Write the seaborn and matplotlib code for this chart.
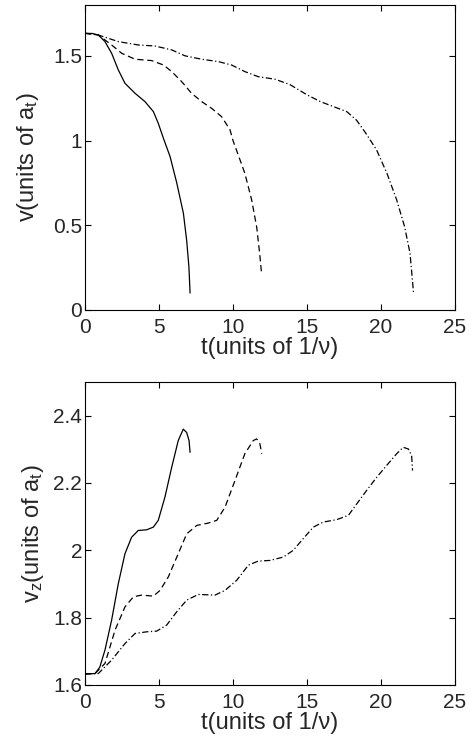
import numpy as np
import pandas as pd
import matplotlib
matplotlib.use("Agg")
import matplotlib.pyplot as plt
import seaborn as sns

# Transverse speed v(t) for three runs
t_v_solid = [0, 0.5, 0.9, 1.35, 1.8, 2.25, 2.7, 3.38, 4.05, 4.62, 4.95, 5.3, 5.75, 6.2, 6.65, 6.87, 7.02, 7.1]
v_solid = [1.633, 1.632, 1.623, 1.584, 1.515, 1.417, 1.338, 1.279, 1.23, 1.171, 1.102, 1.013, 0.905, 0.75, 0.57, 0.41, 0.256, 0.1]

t_v_dash = [0, 0.9, 1.8, 2.48, 3.38, 4.5, 5.3, 5.86, 6.53, 7.2, 7.88, 8.56, 9.23, 9.8, 10.0, 10.25, 10.8, 11.26, 11.6, 11.8, 11.93]
v_dash = [1.633, 1.623, 1.564, 1.515, 1.48, 1.472, 1.446, 1.407, 1.348, 1.279, 1.23, 1.19, 1.141, 1.063, 1.0, 0.94, 0.807, 0.65, 0.49, 0.335, 0.216]

t_v_dd = [0, 0.9, 2.25, 3.6, 4.73, 5.86, 6.76, 7.88, 9.0, 9.9, 10.8, 11.7, 12.84, 13.85, 15.0, 15.9, 16.8, 17.7, 18.35, 19.0, 19.7, 20.4, 21.06, 21.6, 21.96, 22.2]
v_dd = [1.633, 1.623, 1.584, 1.564, 1.558, 1.535, 1.5, 1.48, 1.466, 1.446, 1.407, 1.377, 1.362, 1.33, 1.27, 1.23, 1.2, 1.17, 1.12, 1.04, 0.945, 0.807, 0.65, 0.49, 0.335, 0.1]

# Longitudinal speed v_z(t) for the same runs
t_z_solid = [0, 0.68, 1.0, 1.35, 1.8, 2.25, 2.7, 3.15, 3.6, 4.17, 4.62, 4.95, 5.4, 5.86, 6.3, 6.64, 6.87, 7.03, 7.1]
z_solid = [1.633, 1.634, 1.653, 1.704, 1.793, 1.901, 1.99, 2.039, 2.059, 2.061, 2.069, 2.089, 2.158, 2.247, 2.326, 2.36, 2.35, 2.326, 2.291]

t_z_dash = [0, 0.68, 1.35, 2.03, 2.7, 3.27, 3.83, 4.62, 5.07, 5.63, 6.3, 6.87, 7.55, 8.33, 8.9, 9.46, 10.13, 10.8, 11.37, 11.6, 11.82, 11.94]
z_dash = [1.633, 1.634, 1.664, 1.763, 1.832, 1.862, 1.867, 1.864, 1.881, 1.921, 1.99, 2.049, 2.074, 2.081, 2.089, 2.128, 2.207, 2.287, 2.326, 2.331, 2.316, 2.287]

t_z_dd = [0, 0.9, 1.8, 2.7, 3.38, 4.17, 4.84, 5.52, 6.19, 6.87, 7.66, 8.78, 9.46, 10.25, 11.04, 11.7, 12.5, 13.4, 14.07, 14.75, 15.43, 16.1, 17.0, 17.8, 18.36, 19.03, 19.71, 20.38, 21.06, 21.5, 21.85, 22.07, 22.13]
z_dd = [1.633, 1.634, 1.674, 1.723, 1.753, 1.758, 1.76, 1.778, 1.817, 1.852, 1.869, 1.867, 1.881, 1.911, 1.956, 1.968, 1.97, 1.98, 2.0, 2.035, 2.069, 2.084, 2.091, 2.104, 2.138, 2.178, 2.217, 2.252, 2.287, 2.306, 2.301, 2.281, 2.237]

x_ticks = [0, 5, 10, 15, 20, 25]
v_ticks = [0, 0.5, 1, 1.5]
vz_ticks = [1.6, 1.8, 2.0, 2.2, 2.4]
v_tick_labels = ["0", "0.5", "1", "1.5"]
vz_tick_labels = ["1.6", "1.8", "2", "2.2", "2.4"]

sns.set_theme(style="ticks")
plt.rcParams["font.family"] = ["Liberation Sans", "DejaVu Sans"]
plt.rcParams["mathtext.default"] = "regular"
plt.rcParams["xtick.direction"] = "in"
plt.rcParams["ytick.direction"] = "in"

fig = plt.figure(figsize=(4.76, 7.41), dpi=100)
W, H = 476, 741
ax1 = fig.add_axes([85 / W, 1 - 310 / H, 370 / W, 305 / H])
ax2 = fig.add_axes([85 / W, 1 - 685 / H, 370 / W, 303 / H])

styles = ["-", (0, (5, 3)), (0, (5, 2, 1, 2))]
lw = 0.9

def draw(ax, series):
    for (tx, yy), ls in zip(series, styles):
        df = pd.DataFrame({"t": tx, "y": yy})
        sns.lineplot(data=df, x="t", y="y", ax=ax, color="black", linewidth=lw,
                     linestyle=ls, sort=False, estimator=None)

draw(ax1, [(t_v_solid, v_solid), (t_v_dash, v_dash), (t_v_dd, v_dd)])
draw(ax2, [(t_z_solid, z_solid), (t_z_dash, z_dash), (t_z_dd, z_dd)])

fs_tick = 15
fs_label = 17
for ax in (ax1, ax2):
    ax.set_xlim(0, 25)
    ax.set_xticks(x_ticks)
    ax.set_xticklabels([str(v) for v in x_ticks])
    ax.set_xlabel("t(units of 1/\u03bd)", fontsize=fs_label, labelpad=0)
    ax.tick_params(axis="both", which="both", direction="in", top=True, right=True,
                   length=4, width=0.8, labelsize=fs_tick, color="black")
    ax.tick_params(axis="x", pad=6)
    ax.tick_params(axis="y", pad=2)
    for s in ax.spines.values():
        s.set_linewidth(0.8)
        s.set_color("black")

ax1.set_ylim(0, 1.8)
ax1.set_yticks(v_ticks)
ax1.set_yticklabels(v_tick_labels)
ax1.set_ylabel("v(units of a$_t$)", fontsize=fs_label, labelpad=9)

ax2.set_ylim(1.6, 2.5)
ax2.set_yticks(vz_ticks)
ax2.set_yticklabels(vz_tick_labels)
ax2.set_ylabel("v$_z$(units of a$_t$)", fontsize=fs_label, labelpad=5)

fig.savefig("out.png", dpi=100)
